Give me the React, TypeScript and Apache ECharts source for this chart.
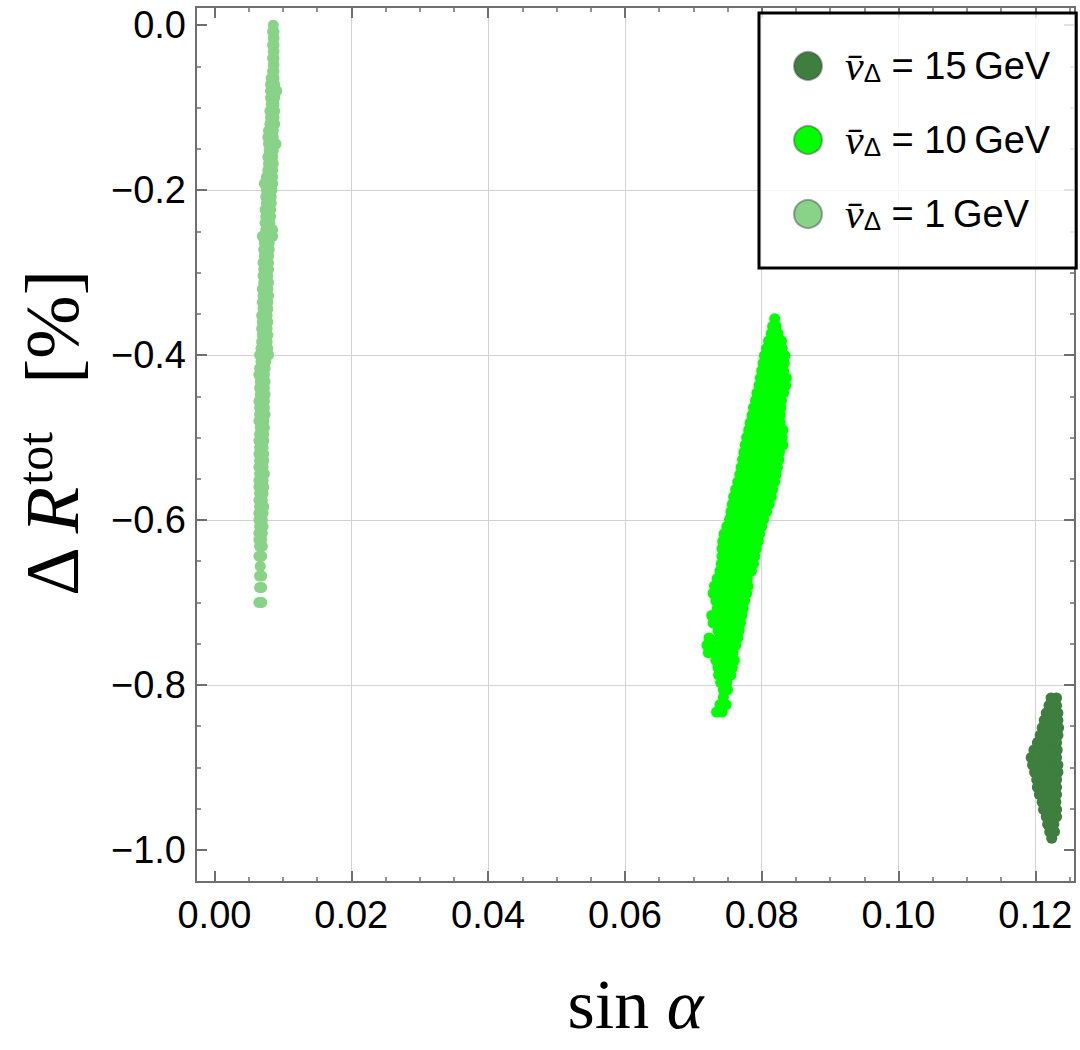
import React, { useEffect, useRef } from "react";
import * as echarts from "echarts";

// Plot frame in page pixels and the value ranges it spans
const FRAME = { left: 196, top: 7, right: 1075, bottom: 882 };
const X_RANGE = [-0.0027, 0.1258];
const Y_RANGE = [-1.039, 0.022];

// Tick layout
const X_TICK_SPAN = [0, 0.14];
const X_TICK_STEP = 0.02;
const Y_TICK_SPAN = [-1, 0];
const Y_TICK_STEP = 0.2;
const MINOR_SPLIT = 4;

// Legend entries (v̄_Δ values in GeV) and colours
const vevValues = ["15", "10", "1"];
const seriesColors = ["#3E7E3E", "#00FF00", "#88D388"];

// Scan points, grouped by ΔR value: [ΔR, sinα, sinα, ...]
const rows15: number[][] = [
  [-0.816, 0.1223, 0.1231],
  [-0.825, 0.122, 0.1231],
  [-0.834, 0.1216, 0.1226, 0.1233],
  [-0.843, 0.1213, 0.1223, 0.1233],
  [-0.852, 0.121, 0.122, 0.123, 0.1234],
  [-0.861, 0.1207, 0.1217, 0.1227, 0.1233],
  [-0.87, 0.1203, 0.1213, 0.1223, 0.1231],
  [-0.879, 0.1198, 0.1208, 0.1218, 0.1228, 0.1232],
  [-0.888, 0.1194, 0.1204, 0.1214, 0.1224, 0.1231],
  [-0.897, 0.1196, 0.1206, 0.1216, 0.1226, 0.1233],
  [-0.906, 0.1199, 0.1209, 0.1219, 0.1229, 0.1233],
  [-0.915, 0.1202, 0.1212, 0.1222, 0.1231],
  [-0.924, 0.1203, 0.1213, 0.1223, 0.1231],
  [-0.933, 0.1206, 0.1216, 0.1226, 0.1231],
  [-0.942, 0.121, 0.122, 0.123],
  [-0.951, 0.1212, 0.1222, 0.1231],
  [-0.96, 0.1216, 0.1225, 0.1231],
  [-0.969, 0.1218, 0.1227],
  [-0.978, 0.1221, 0.1228],
  [-0.986, 0.1224],
];

const rows10: number[][] = [
  [-0.356, 0.0819],
  [-0.365, 0.0816, 0.0821],
  [-0.374, 0.0814, 0.0824],
  [-0.383, 0.081, 0.0821, 0.0829],
  [-0.392, 0.0807, 0.0818, 0.083],
  [-0.401, 0.0804, 0.0815, 0.0826, 0.0834],
  [-0.41, 0.0802, 0.0813, 0.0824, 0.0833],
  [-0.419, 0.08, 0.0811, 0.0822, 0.0832],
  [-0.428, 0.0798, 0.0809, 0.082, 0.0831, 0.0836],
  [-0.437, 0.0796, 0.0807, 0.0818, 0.0829, 0.0835],
  [-0.446, 0.0793, 0.0804, 0.0815, 0.0826, 0.0832],
  [-0.455, 0.0791, 0.0802, 0.0813, 0.0824, 0.0829],
  [-0.464, 0.0788, 0.0799, 0.081, 0.0821, 0.0828],
  [-0.473, 0.0786, 0.0797, 0.0808, 0.0819, 0.0827],
  [-0.482, 0.0783, 0.0794, 0.0805, 0.0816, 0.0827],
  [-0.491, 0.0781, 0.0792, 0.0803, 0.0814, 0.0825, 0.0831],
  [-0.5, 0.0778, 0.0789, 0.08, 0.0811, 0.0822, 0.083],
  [-0.509, 0.0776, 0.0787, 0.0798, 0.0809, 0.082, 0.0831],
  [-0.518, 0.0774, 0.0785, 0.0796, 0.0807, 0.0818, 0.0826],
  [-0.527, 0.0772, 0.0783, 0.0794, 0.0805, 0.0816, 0.0825],
  [-0.536, 0.077, 0.0781, 0.0792, 0.0803, 0.0814, 0.0823],
  [-0.545, 0.0768, 0.0779, 0.079, 0.0801, 0.0812, 0.0821],
  [-0.554, 0.0765, 0.0776, 0.0787, 0.0798, 0.0809, 0.0819],
  [-0.563, 0.0762, 0.0773, 0.0784, 0.0795, 0.0806, 0.0816],
  [-0.572, 0.0759, 0.077, 0.0781, 0.0792, 0.0803, 0.0814],
  [-0.581, 0.0757, 0.0768, 0.0779, 0.079, 0.0801, 0.0811],
  [-0.59, 0.0755, 0.0766, 0.0777, 0.0788, 0.0799, 0.0807],
  [-0.599, 0.0753, 0.0764, 0.0775, 0.0786, 0.0797, 0.0803],
  [-0.608, 0.0749, 0.076, 0.0771, 0.0782, 0.0793, 0.08],
  [-0.617, 0.0745, 0.0756, 0.0767, 0.0778, 0.0789, 0.0797],
  [-0.626, 0.0743, 0.0754, 0.0765, 0.0776, 0.0787, 0.0795],
  [-0.635, 0.0742, 0.0753, 0.0764, 0.0775, 0.0786, 0.0792],
  [-0.644, 0.0742, 0.0752, 0.0763, 0.0774, 0.0784, 0.079],
  [-0.653, 0.0741, 0.0751, 0.0762, 0.0773, 0.0783, 0.0788],
  [-0.662, 0.0739, 0.075, 0.0761, 0.0772, 0.0785],
  [-0.671, 0.0735, 0.0746, 0.0757, 0.0768, 0.0779],
  [-0.68, 0.0731, 0.0742, 0.0753, 0.0764, 0.0775, 0.078],
  [-0.689, 0.0729, 0.074, 0.0751, 0.0762, 0.0773, 0.0778],
  [-0.698, 0.0733, 0.0744, 0.0755, 0.0766, 0.0775],
  [-0.707, 0.0735, 0.0746, 0.0757, 0.0768, 0.0773],
  [-0.716, 0.0727, 0.0738, 0.0749, 0.076, 0.0771],
  [-0.725, 0.0729, 0.074, 0.0751, 0.0762, 0.0769],
  [-0.734, 0.0736, 0.0747, 0.0758, 0.0767],
  [-0.743, 0.0723, 0.0738, 0.0749, 0.076, 0.0765],
  [-0.752, 0.072, 0.0727, 0.074, 0.0751, 0.0762],
  [-0.761, 0.0722, 0.0736, 0.0747, 0.0758],
  [-0.77, 0.0733, 0.0744, 0.0755, 0.076],
  [-0.779, 0.0736, 0.0747, 0.0757],
  [-0.788, 0.0737, 0.0748, 0.0755],
  [-0.797, 0.074, 0.0749],
  [-0.806, 0.0744, 0.075],
  [-0.815, 0.0744],
  [-0.824, 0.0739, 0.0748],
  [-0.833, 0.0734, 0.0742],
];

const rows1: number[][] = [
  [0.0, 0.0086],
  [-0.008, 0.0085, 0.0087],
  [-0.016, 0.0086, 0.0087],
  [-0.024, 0.0085, 0.0087],
  [-0.032, 0.0086, 0.0087],
  [-0.04, 0.0085, 0.0087],
  [-0.048, 0.0086, 0.0087],
  [-0.056, 0.0085, 0.0087],
  [-0.064, 0.0083, 0.0087],
  [-0.072, 0.0082, 0.0088],
  [-0.08, 0.0082, 0.0087, 0.0091],
  [-0.088, 0.0082, 0.0088],
  [-0.096, 0.0083, 0.0087],
  [-0.104, 0.0081, 0.0088],
  [-0.112, 0.0082, 0.0087],
  [-0.12, 0.0081, 0.0088],
  [-0.128, 0.0079, 0.0086],
  [-0.136, 0.0078, 0.0086],
  [-0.144, 0.0079, 0.0087, 0.009],
  [-0.152, 0.008, 0.0086],
  [-0.16, 0.0078, 0.0085],
  [-0.168, 0.0079, 0.0086],
  [-0.176, 0.0078, 0.0085],
  [-0.184, 0.0076, 0.0085],
  [-0.192, 0.0073, 0.0078, 0.0085],
  [-0.2, 0.0076, 0.0084],
  [-0.208, 0.0075, 0.0083],
  [-0.216, 0.0076, 0.0083],
  [-0.224, 0.0074, 0.0082],
  [-0.232, 0.0075, 0.0082],
  [-0.24, 0.0074, 0.0081],
  [-0.248, 0.0075, 0.0082, 0.0085],
  [-0.256, 0.007, 0.0075, 0.0081, 0.0085],
  [-0.264, 0.0073, 0.008],
  [-0.272, 0.0072, 0.008],
  [-0.28, 0.0073, 0.0079],
  [-0.288, 0.0071, 0.0079],
  [-0.296, 0.0072, 0.0079],
  [-0.304, 0.0071, 0.0078],
  [-0.312, 0.0072, 0.0079],
  [-0.32, 0.007, 0.0078],
  [-0.328, 0.0071, 0.0079],
  [-0.336, 0.007, 0.0078],
  [-0.344, 0.0071, 0.0078],
  [-0.352, 0.0069, 0.0077],
  [-0.36, 0.007, 0.0078],
  [-0.368, 0.0069, 0.0077],
  [-0.376, 0.007, 0.0078],
  [-0.384, 0.0069, 0.0077],
  [-0.392, 0.0068, 0.0078],
  [-0.4, 0.0066, 0.0074, 0.0079],
  [-0.408, 0.0068, 0.0075],
  [-0.416, 0.0066, 0.0074],
  [-0.424, 0.0065, 0.0073],
  [-0.432, 0.0067, 0.0074],
  [-0.44, 0.0066, 0.0073],
  [-0.448, 0.0067, 0.0074],
  [-0.456, 0.0065, 0.0073],
  [-0.464, 0.0066, 0.0073],
  [-0.472, 0.0066, 0.0074],
  [-0.48, 0.0065, 0.0072],
  [-0.488, 0.0067, 0.0073],
  [-0.496, 0.0066, 0.0072],
  [-0.504, 0.0065, 0.0072],
  [-0.512, 0.0066, 0.0071],
  [-0.52, 0.0065, 0.0072],
  [-0.528, 0.0066, 0.0072],
  [-0.536, 0.0065, 0.0071],
  [-0.544, 0.0066, 0.0073],
  [-0.552, 0.0065, 0.0071],
  [-0.56, 0.0065, 0.0072],
  [-0.568, 0.0066, 0.0071],
  [-0.576, 0.0065, 0.007],
  [-0.584, 0.0066, 0.0072],
  [-0.592, 0.0065, 0.0071],
  [-0.6, 0.0065, 0.007],
  [-0.608, 0.0066, 0.0071],
  [-0.616, 0.0065, 0.007],
  [-0.624, 0.0065, 0.0069],
  [-0.632, 0.0066, 0.007],
  [-0.644, 0.0065, 0.0069],
  [-0.656, 0.0067],
  [-0.668, 0.0066, 0.0069],
  [-0.682, 0.0066, 0.0069],
  [-0.7, 0.0065, 0.0069],
];

const seriesRows = [rows15, rows10, rows1];

function toPoints(rows: number[][]): number[][] {
  const pts: number[][] = [];
  for (const row of rows) {
    const y = row[0];
    for (let i = 1; i < row.length; i++) pts.push([row[i], y]);
  }
  return pts;
}

const W = FRAME.right - FRAME.left;
const H = FRAME.bottom - FRAME.top;
const pxX = (v: number) => FRAME.left + ((v - X_RANGE[0]) / (X_RANGE[1] - X_RANGE[0])) * W;
const pxY = (v: number) => FRAME.top + ((Y_RANGE[1] - v) / (Y_RANGE[1] - Y_RANGE[0])) * H;

const AXIS_GRAY = "#6f6f6f";
const GRID_GRAY = "#d2d2d2";
const SANS = "'Liberation Sans', Arial, Helvetica, sans-serif";
const SERIF = "'Liberation Serif', 'Times New Roman', serif";

const majorTick = (show: boolean) => ({
  show,
  inside: true,
  length: 11,
  lineStyle: { color: AXIS_GRAY, width: 2 },
});
const minorTick = {
  show: true,
  splitNumber: MINOR_SPLIT,
  length: 5,
  lineStyle: { color: AXIS_GRAY, width: 1.5 },
};

const fmtY = (v: number) => (Math.abs(v) < 1e-9 ? "0.0" : (v < 0 ? "\u2212" : "") + Math.abs(v).toFixed(1));
const fmtX = (v: number) => v.toFixed(2);

function buildOption(): any {
  const series = seriesRows.map((rows, i) => ({
    type: "scatter",
    name: vevValues[i],
    xAxisIndex: 0,
    yAxisIndex: 0,
    symbol: "circle",
    symbolSize: 11,
    itemStyle: { color: seriesColors[i], opacity: 1 },
    data: toPoints(rows),
    z: 3,
  }));

  return {
    animation: false,
    backgroundColor: "#ffffff",
    grid: [
      {
        left: FRAME.left,
        top: FRAME.top,
        width: W,
        height: H,
        show: true,
        borderColor: AXIS_GRAY,
        borderWidth: 2,
        backgroundColor: "transparent",
        containLabel: false,
        outerBoundsMode: "none",
        z: 1,
      },
      {
        left: pxX(X_TICK_SPAN[0]),
        top: FRAME.top,
        width: pxX(X_TICK_SPAN[1]) - pxX(X_TICK_SPAN[0]),
        height: H,
        containLabel: false,
        outerBoundsMode: "none",
      },
      {
        left: FRAME.left,
        top: pxY(Y_TICK_SPAN[1]),
        width: W,
        height: pxY(Y_TICK_SPAN[0]) - pxY(Y_TICK_SPAN[1]),
        containLabel: false,
        outerBoundsMode: "none",
      },
    ],
    xAxis: [
      { gridIndex: 0, type: "value", min: X_RANGE[0], max: X_RANGE[1], show: false },
      {
        gridIndex: 1,
        type: "value",
        position: "bottom",
        min: X_TICK_SPAN[0],
        max: X_TICK_SPAN[1],
        interval: X_TICK_STEP,
        axisLine: { show: false },
        axisTick: majorTick(true),
        minorTick,
        axisLabel: {
          show: true,
          formatter: fmtX,
          fontFamily: SANS,
          fontSize: 38,
          color: "#000",
          margin: 14,
          showMaxLabel: false,
        },
        splitLine: {
          show: true,
          showMinLine: false,
          showMaxLine: false,
          lineStyle: { color: GRID_GRAY, width: 1 },
        },
        minorSplitLine: { show: false },
      },
      {
        gridIndex: 1,
        type: "value",
        position: "top",
        min: X_TICK_SPAN[0],
        max: X_TICK_SPAN[1],
        interval: X_TICK_STEP,
        axisLine: { show: false },
        axisTick: majorTick(true),
        minorTick,
        axisLabel: { show: false },
        splitLine: { show: false },
      },
      { gridIndex: 2, type: "value", min: 0, max: 1, show: false },
    ],
    yAxis: [
      { gridIndex: 0, type: "value", min: Y_RANGE[0], max: Y_RANGE[1], show: false },
      { gridIndex: 1, type: "value", min: 0, max: 1, show: false },
      {
        gridIndex: 2,
        type: "value",
        position: "left",
        min: Y_TICK_SPAN[0],
        max: Y_TICK_SPAN[1],
        interval: Y_TICK_STEP,
        axisLine: { show: false },
        axisTick: majorTick(true),
        minorTick,
        axisLabel: {
          show: true,
          formatter: fmtY,
          fontFamily: SANS,
          fontSize: 38,
          color: "#000",
          margin: 10,
        },
        splitLine: {
          show: true,
          showMinLine: false,
          showMaxLine: false,
          lineStyle: { color: GRID_GRAY, width: 1 },
        },
      },
      {
        gridIndex: 2,
        type: "value",
        position: "right",
        min: Y_TICK_SPAN[0],
        max: Y_TICK_SPAN[1],
        interval: Y_TICK_STEP,
        axisLine: { show: false },
        axisTick: majorTick(true),
        minorTick,
        axisLabel: { show: false },
        splitLine: { show: false },
      },
    ],
    legend: {
      show: true,
      orient: "vertical",
      left: 759,
      top: 13,
      padding: [32, 26, 33, 34],
      itemGap: 32,
      itemWidth: 28,
      itemHeight: 28,
      icon: "circle",
      backgroundColor: "rgba(255,255,255,0.8)",
      borderColor: "#000",
      borderWidth: 3,
      borderRadius: 0,
      selectedMode: false,
      z: 10,
      itemStyle: { borderColor: "rgba(60,60,60,0.45)", borderWidth: 2 },
      data: vevValues,
      formatter: (name: string) => `{sp|}{v|v\u0304}{d|\u0394}{t| = ${name}\u2009GeV}`,
      textStyle: {
        color: "#000",
        fontFamily: SANS,
        fontSize: 38,
        lineHeight: 30,
        rich: {
          sp: { width: 18 },
          v: { fontFamily: SERIF, fontStyle: "italic", fontSize: 42, lineHeight: 30, verticalAlign: "middle" },
          d: { fontFamily: SANS, fontSize: 26, lineHeight: 26, padding: [13, 0, 0, 0], verticalAlign: "middle" },
          t: { fontFamily: SANS, fontSize: 38, lineHeight: 30, verticalAlign: "middle" },
        },
      },
    },
    graphic: [
      {
        type: "text",
        x: (FRAME.left + FRAME.right) / 2,
        y: 1004,
        style: {
          text: "{s|sin }{a|\u03b1}",
          align: "center",
          verticalAlign: "middle",
          fill: "#000",
          rich: {
            s: { fontFamily: SERIF, fontSize: 70, fill: "#000" },
            a: { fontFamily: SERIF, fontStyle: "italic", fontSize: 70, fill: "#000" },
          },
        },
      },
      {
        type: "text",
        x: 52,
        y: 433,
        rotation: Math.PI / 2,
        style: {
          text: "{d|\u0394}{g1| }{r|R}{s|tot}{g2|}{p|[%]}",
          align: "center",
          verticalAlign: "middle",
          fill: "#000",
          rich: {
            d: { fontFamily: SERIF, fontSize: 76, fill: "#000", lineHeight: 80 },
            g1: { fontFamily: SERIF, fontSize: 76, width: 14 },
            r: { fontFamily: SERIF, fontStyle: "italic", fontSize: 76, fill: "#000", lineHeight: 80 },
            s: { fontFamily: SERIF, fontSize: 50, fill: "#000", padding: [0, 0, 34, 2], lineHeight: 50 },
            g2: { width: 48 },
            p: { fontFamily: SERIF, fontSize: 76, fill: "#000", lineHeight: 80 },
          },
        },
      },
    ],
    series,
  };
}

export default function App() {
  const ref = useRef<HTMLDivElement>(null);
  useEffect(() => {
    if (!ref.current) return;
    const chart = echarts.init(ref.current, undefined, { renderer: "svg" });
    chart.setOption(buildOption());
    return () => chart.dispose();
  }, []);
  return (
    <div
      ref={ref}
      style={{ position: "absolute", left: 0, top: 0, width: 1080, height: 1050, background: "#fff" }}
    />
  );
}
